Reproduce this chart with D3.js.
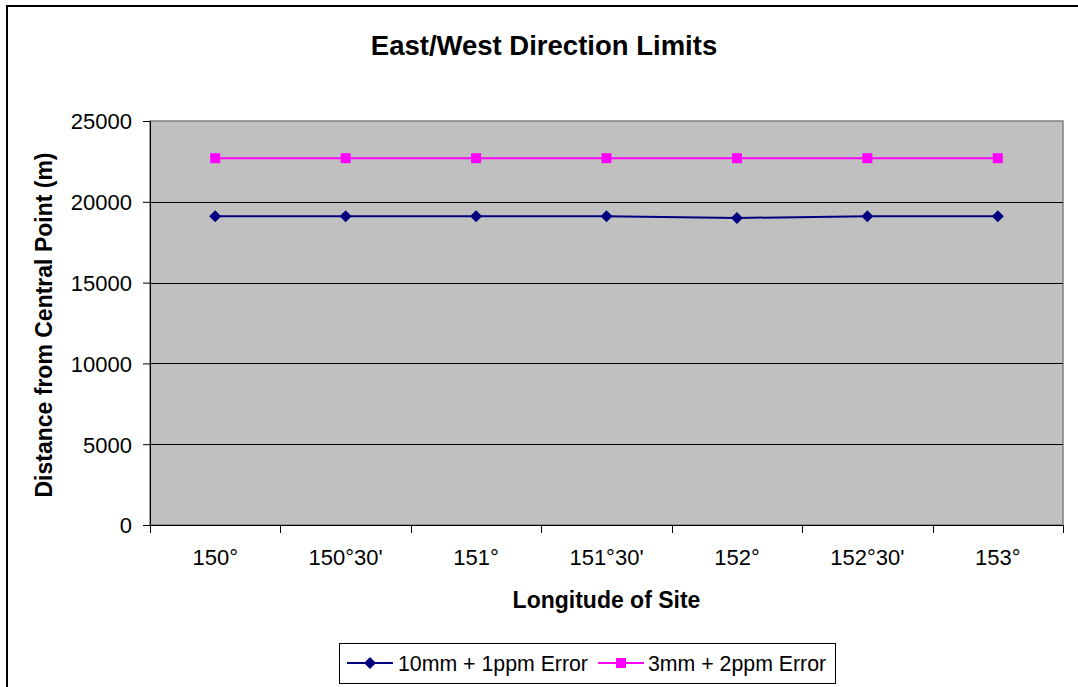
<!DOCTYPE html>
<html>
<head>
<meta charset="utf-8">
<script src="https://cdn.jsdelivr.net/npm/d3@7"></script>
<style>
  html, body { margin: 0; padding: 0; background: #fff; }
  svg { display: block; font-family: "Liberation Sans", Arial, sans-serif; }
</style>
</head>
<body>
<svg id="chart" width="1078" height="687"></svg>
<script>
// Longitude categories along the x axis
const longitudes = ["150°", "150°30'", "151°", "151°30'", "152°", "152°30'", "153°"];
// Distance limits (m) for each instrument error model
const error10mm1ppm = [19100, 19100, 19100, 19100, 19000, 19100, 19100];
const error3mm2ppm  = [22700, 22700, 22700, 22700, 22700, 22700, 22700];
const seriesNames = ["10mm + 1ppm Error", "3mm + 2ppm Error"];
const yTicks = [0, 5000, 10000, 15000, 20000, 25000];

const FONT = "'Liberation Sans', Arial, sans-serif";
const svg = d3.select("#chart");
const W = 1078, H = 687;
const plot = { left: 150, right: 1063, top: 121, bottom: 525 };

// Outer chart frame
svg.append("rect")
  .attr("x", 7).attr("y", 6)
  .attr("width", W + 10).attr("height", H + 10)
  .attr("fill", "#fff").attr("stroke", "#000").attr("stroke-width", 2);

const x = d3.scaleBand().domain(longitudes).range([plot.left, plot.right]);
const y = d3.scaleLinear().domain([0, 25000]).range([plot.bottom, plot.top]);

// Plot area background
svg.append("rect")
  .attr("x", plot.left).attr("y", plot.top)
  .attr("width", plot.right - plot.left).attr("height", plot.bottom - plot.top)
  .attr("fill", "#c0c0c0").attr("stroke", "#808080").attr("stroke-width", 1.5);

// Horizontal gridlines
svg.append("g").selectAll("line")
  .data(yTicks.filter(d => d > 0 && d < 25000))
  .join("line")
  .attr("x1", plot.left).attr("x2", plot.right)
  .attr("y1", d => Math.round(y(d)) + 0.5).attr("y2", d => Math.round(y(d)) + 0.5)
  .attr("stroke", "#000").attr("stroke-width", 1);

// Y axis
const yAxis = svg.append("g")
  .attr("transform", `translate(${plot.left},0)`)
  .call(d3.axisLeft(y).tickValues(yTicks).tickSize(7).tickPadding(11).tickFormat(d3.format("d")));
yAxis.attr("font-family", FONT).attr("font-size", 22);
yAxis.select(".domain").attr("stroke", "#000");
yAxis.selectAll(".tick line").attr("stroke", "#000");
yAxis.selectAll("text").attr("fill", "#000").attr("dy", "0.36em");

// X axis with ticks between categories
const xAxis = svg.append("g")
  .attr("transform", `translate(0,${plot.bottom})`)
  .call(d3.axisBottom(x).tickSize(0).tickPadding(24));
xAxis.attr("font-family", FONT).attr("font-size", 22);
xAxis.select(".domain").attr("stroke", "#000");
xAxis.selectAll("text").attr("fill", "#000");
const bounds = longitudes.map(d => x(d)).concat([x(longitudes[longitudes.length - 1]) + x.bandwidth()]);
xAxis.selectAll(".sep").data(bounds).join("line")
  .attr("class", "sep")
  .attr("x1", d => Math.round(d) + 0.5).attr("x2", d => Math.round(d) + 0.5)
  .attr("y1", 0).attr("y2", 8)
  .attr("stroke", "#000");

const cx = d => x(d) + x.bandwidth() / 2;

// Series lines and markers
const series = [
  { name: seriesNames[0], values: error10mm1ppm, color: "#000080", symbol: "diamond" },
  { name: seriesNames[1], values: error3mm2ppm,  color: "#ff00ff", symbol: "square" }
];
const line = d3.line().x(d => cx(d[0])).y(d => y(d[1]));

function drawMarker(g, s, px, py) {
  if (s.symbol === "diamond") {
    g.append("path")
      .attr("d", `M${px},${py - 6}L${px + 6},${py}L${px},${py + 6}L${px - 6},${py}Z`)
      .attr("fill", s.color);
  } else {
    g.append("rect")
      .attr("x", px - 5).attr("y", py - 5).attr("width", 10).attr("height", 10)
      .attr("fill", s.color);
  }
}

series.forEach(s => {
  const pts = longitudes.map((c, i) => [c, s.values[i]]);
  svg.append("path")
    .attr("d", line(pts))
    .attr("fill", "none").attr("stroke", s.color).attr("stroke-width", 2);
  const g = svg.append("g");
  pts.forEach(p => drawMarker(g, s, cx(p[0]), y(p[1])));
});

// Title
svg.append("text")
  .attr("x", 544).attr("y", 55)
  .attr("text-anchor", "middle").attr("font-size", 27.5).attr("font-weight", "bold")
  .text("East/West Direction Limits");

// Axis titles
svg.append("text")
  .attr("x", (plot.left + plot.right) / 2).attr("y", 608)
  .attr("text-anchor", "middle").attr("font-size", 23).attr("font-weight", "bold")
  .text("Longitude of Site");

svg.append("text")
  .attr("transform", `translate(52,${(plot.top + plot.bottom) / 2 + 2}) rotate(-90)`)
  .attr("text-anchor", "middle").attr("font-size", 23).attr("font-weight", "bold")
  .text("Distance from Central Point (m)");

// Legend
const legend = svg.append("g");
legend.append("rect")
  .attr("x", 339.5).attr("y", 643.5).attr("width", 496).attr("height", 40)
  .attr("fill", "#fff").attr("stroke", "#000").attr("stroke-width", 1);
const legendItems = [
  { s: series[0], x0: 347, tx: 398 },
  { s: series[1], x0: 598, tx: 648 }
];
legendItems.forEach(it => {
  const ly = 663;
  legend.append("line")
    .attr("x1", it.x0).attr("x2", it.x0 + 46).attr("y1", ly).attr("y2", ly)
    .attr("stroke", it.s.color).attr("stroke-width", 2);
  drawMarker(legend, it.s, it.x0 + 23, ly);
  legend.append("text")
    .attr("x", it.tx).attr("y", ly + 8)
    .attr("font-size", 21.3)
    .text(it.s.name);
});
</script>
</body>
</html>
